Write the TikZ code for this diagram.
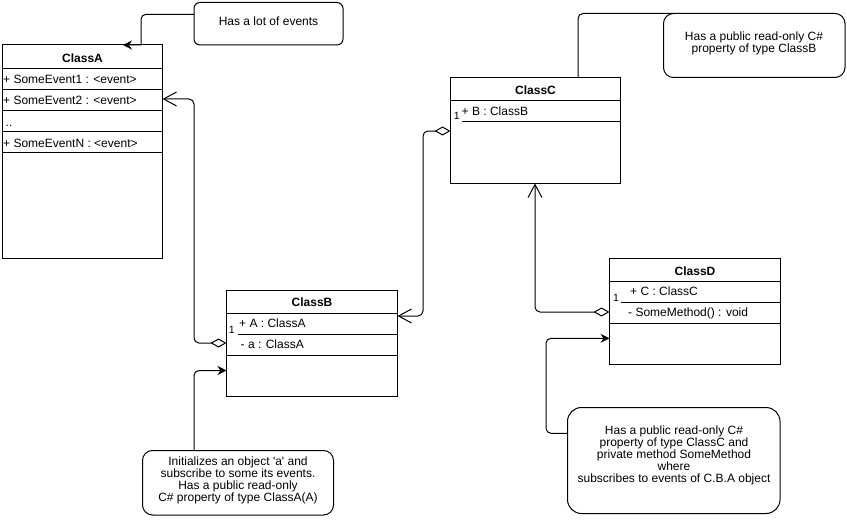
\documentclass[tikz,border=0pt]{standalone}
\usepackage{fontspec}
\setmainfont{Liberation Sans}
\usetikzlibrary{arrows.meta}

\tikzset{
  classbox/.style={draw, line width=1pt, anchor=north west, inner sep=0pt, outer sep=0pt},
  notebox/.style={draw, line width=1pt, anchor=north west, inner sep=0pt, outer sep=0pt},
  title/.style={anchor=base, inner sep=0pt, font=\fontsize{12}{12}\selectfont\bfseries},
  member/.style={anchor=base west, inner sep=0pt},
  mult/.style={anchor=base, inner sep=0pt, font=\fontsize{10.5}{10.5}\selectfont},
  memo/.style={align=center, anchor=north, inner sep=0pt},
  aggr/.style={line width=1pt, rounded corners=5pt,
    {Diamond[open,length=16pt,width=9pt]}-{Straight Barb[length=13pt,width=14pt]}},
  usage/.style={line width=1pt, rounded corners=5pt,
    -{Stealth[length=9pt,width=9pt,inset=3pt]}},
}

\begin{document}
\begin{tikzpicture}[x=1pt, y=-1pt, font=\fontsize{12}{12}\selectfont]
  \useasboundingbox (0,0) rectangle (847,527);

  \node[classbox, minimum width=160pt, minimum height=213pt] (ClassA) at (2.5,45) {};
    \node[title] (ClassATitle) at (82.5,62.5) {ClassA};
    \node[member] (ClassAEv1) at (3,84) {+ SomeEvent1 : <event>};
    \node[member] (ClassAEv2) at (3,105) {+ SomeEvent2 : <event>};
    \node[member] (ClassADots) at (5.5,126) {..};
    \node[member] (ClassAEvN) at (3,147) {+ SomeEventN : <event>};
  \foreach \y in {68.5,89.5,110.5,131.5,152.5}
    \draw[line width=1pt] (2.5,\y) -- (162.5,\y);

  \node[classbox, minimum width=170pt, minimum height=106pt] (ClassC) at (450.5,77.5) {};
    \node[title] (ClassCTitle) at (535.5,95) {ClassC};
    \node[member] (ClassCB) at (461.5,115.7) {+ B : ClassB};
    \node[mult] (ClassCMult) at (456.7,120) {1};
  \draw[line width=1pt] (450.5,100.5) -- (620.5,100.5)
                        (462,121.5) -- (620.5,121.5);

  \node[classbox, minimum width=171pt, minimum height=106pt] (ClassB) at (226.5,290.5) {};
    \node[title] (ClassBTitle) at (312,306) {ClassB};
    \node[member] (ClassBA) at (239,327.7) {+ A : ClassA};
    \node[member] (ClassBa) at (240.5,348.3) {- a : ClassA};
    \node[mult] (ClassBMult) at (231.7,333.3) {1};
  \draw[line width=1pt] (226.5,313.5) -- (397.5,313.5)
                        (238,334.5) -- (397.5,334.5)
                        (226.5,355.5) -- (397.5,355.5);

  \node[classbox, minimum width=171pt, minimum height=106pt] (ClassD) at (609.5,258.5) {};
    \node[title] (ClassDTitle) at (695,275) {ClassD};
    \node[member] (ClassDC) at (630,295.7) {+ C : ClassC};
    \node[member] (ClassDMethod) at (628,316.7) {- SomeMethod() : void};
    \node[mult] (ClassDMult) at (616,301.7) {1};
  \draw[line width=1pt] (609.5,281.5) -- (780.5,281.5)
                        (621,302.5) -- (780.5,302.5)
                        (609.5,323.5) -- (780.5,323.5);

  \node[notebox, rounded corners=6pt, minimum width=149pt, minimum height=42.5pt] (NoteA) at (194,2.5) {};
    \node[anchor=base, inner sep=0pt] (NoteAText) at (268.5,25.3) {Has a lot of events};
  \node[notebox, rounded corners=10pt, minimum width=181.5pt, minimum height=64pt] (NoteC) at (663.5,13.5) {};
    \node[memo] (NoteCText) at (754,31.5) {Has a public read-only C\#\\property of type ClassB};
  \node[notebox, rounded corners=10pt, minimum width=191pt, minimum height=64.5pt] (NoteB) at (142.5,450.5) {};
    \node[memo] (NoteBText) at (238,456.9) {Initializes an object \textquotesingle a\textquotesingle{} and\\subscribe to some its events.\\Has a public read-only\\C\# property of type ClassA(A)};
  \node[notebox, rounded corners=14pt, minimum width=212.5pt, minimum height=106pt] (NoteD) at (567.5,407.5) {};
    \node[memo] (NoteDText) at (674,425.2) {Has a public read-only C\#\\property of type ClassC and\\private method SomeMethod\\where\\subscribes to events of C.B.A object};

  \coordinate (ClassATop) at (123,45);
  \draw[usage] (NoteA.west |- 0,14.3) -- (141,14.3) [sharp corners] -- (141,45) -- (ClassATop);
  \draw[aggr] (ClassB.west |- 0,343) -- (194,343) -- (194,99) -- (ClassA.east |- 0,99);
  \draw[aggr] (ClassC.west |- 0,131) -- (423,131) -- (423,316) -- (ClassB.east |- 0,316);
  \draw[aggr] (ClassD.west |- 0,312) -- (535,312) -- (ClassC.south -| 535,0);
  \draw[usage] (NoteB.north -| 194,0) -- (194,370.5) -- (ClassB.west |- 0,370.5);
  \draw[usage] (NoteD.west |- 0,433.3) -- (546,433.3) -- (546,338.3) -- (ClassD.west |- 0,338.3);
  \draw[line width=1pt, rounded corners=5pt] (ClassC.north -| 578,0) -- (578,13.5) -- ([xshift=10pt]NoteC.north west);
\end{tikzpicture}
\end{document}
